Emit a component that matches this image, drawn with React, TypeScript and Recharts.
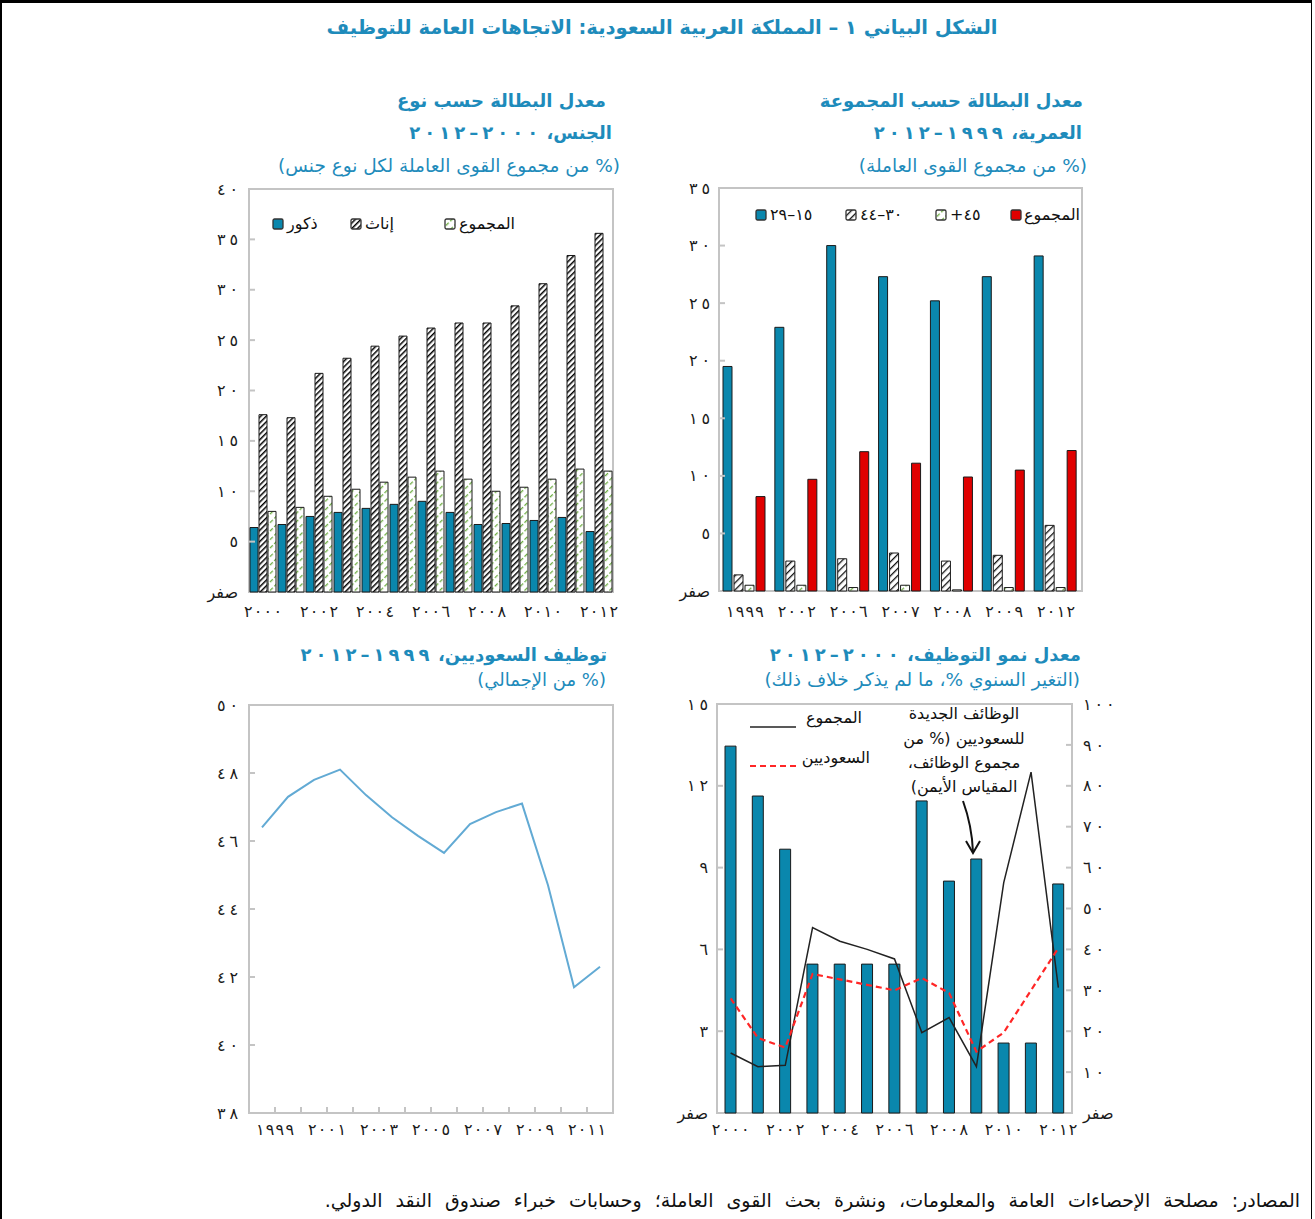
import React from 'react';
import { BarChart, Bar, LineChart, Line, ComposedChart, XAxis, YAxis, ReferenceArea } from 'recharts';

// ---------- data ----------
const ageYears = [1999, 2002, 2006, 2007, 2008, 2009, 2012];
const age15to29 = [19.5, 22.9, 30.0, 27.3, 25.2, 27.3, 29.1];
const age30to44 = [1.4, 2.6, 2.8, 3.3, 2.6, 3.1, 5.7];
const age45plus = [0.5, 0.5, 0.3, 0.5, 0.1, 0.3, 0.3];
const ageTotal = [8.2, 9.7, 12.1, 11.1, 9.9, 10.5, 12.2];
const ageTicks = [0, 5, 10, 15, 20, 25, 30, 35];

const genderYears = [2000, 2001, 2002, 2003, 2004, 2005, 2006, 2007, 2008, 2009, 2010, 2011, 2012];
const maleUnemp = [6.4, 6.7, 7.5, 7.9, 8.3, 8.7, 9.0, 7.9, 6.7, 6.8, 7.1, 7.4, 6.0];
const femaleUnemp = [17.6, 17.3, 21.7, 23.2, 24.4, 25.4, 26.2, 26.7, 26.7, 28.4, 30.6, 33.4, 35.6];
const totalUnemp = [8.0, 8.4, 9.5, 10.2, 10.9, 11.4, 12.0, 11.2, 10.0, 10.4, 11.2, 12.2, 12.0];
const genderTicks = [0, 5, 10, 15, 20, 25, 30, 35, 40];

const saudiYears = [1999, 2000, 2001, 2002, 2003, 2004, 2005, 2006, 2007, 2008, 2009, 2010, 2011, 2012];
const saudiShare = [46.4, 47.3, 47.8, 48.1, 47.35, 46.7, 46.15, 45.65, 46.5, 46.85, 47.1, 44.7, 41.7, 42.3];
const saudiTicks = [38, 40, 42, 44, 46, 48, 50];
const saudiLabelYears = [1999, 2001, 2003, 2005, 2007, 2009, 2011];

const growthYears = [2000, 2001, 2002, 2003, 2004, 2005, 2006, 2007, 2008, 2009, 2010, 2011, 2012];
const newJobsSaudiShare = [89.7, 77.5, 64.5, 36.4, 36.4, 36.4, 36.4, 76.3, 56.7, 62.1, 17.1, 17.1, 56.0];
const growthTotal = [2.2, 1.7, 1.75, 6.8, 6.3, 6.0, 5.65, 2.95, 3.5, 1.7, 8.45, 12.5, 4.6];
const growthSaudi = [4.2, 2.75, 2.4, 5.1, 4.9, 4.7, 4.5, 4.95, 4.4, 2.25, 2.95, 4.5, 6.05];
const growthLeftTicks = [0, 3, 6, 9, 12, 15];
const growthRightTicks = [0, 10, 20, 30, 40, 50, 60, 70, 80, 90, 100];

// ---------- style ----------
const AR_DIGITS = '٠١٢٣٤٥٦٧٨٩';
const ar = (v: number | string) => String(v).replace(/[0-9]/g, (d) => AR_DIGITS[Number(d)]);
const tickText = (v: number) => (v === 0 ? 'صفر' : ar(v));

const BLUE = '#0a87ad';
const TITLE_BLUE = '#1e8bbb';
const RED = '#e00000';
const GREEN = '#6fae45';
const FRAME = '#c4c4c4';
const LINE_BLUE = '#62aad4';
const FONT = '"DejaVu Sans", sans-serif';
const TICK_FS = 16;

// ---------- tick helpers ----------
function yTick(side: 'left' | 'right', min: number, max: number, gap: number) {
  return (props: any) => {
    const { x, y, payload } = props;
    const v = payload.value;
    const dir = side === 'left' ? 1 : -1;
    const mark = v > min && v < max;
    const label = tickText(v);
    const stretch = v === 0 ? {} : { textLength: label.length * 10.5, lengthAdjust: 'spacing' };
    return (
      <g>
        {mark && <line x1={x} x2={x + dir * 6} y1={y} y2={y} stroke={FRAME} strokeWidth={2} />}
        <text
          x={x - dir * gap}
          y={y}
          dy="0.35em"
          textAnchor={side === 'left' ? 'end' : 'start'}
          fontFamily={FONT}
          fontSize={TICK_FS}
          fill="#1a1a1a"
          {...stretch}
        >
          {label}
        </text>
      </g>
    );
  };
}

function xTick(offset: number) {
  return (props: any) => {
    const { x, y, payload } = props;
    const label = String(payload.value);
    return (
      <text
        x={x}
        y={y + offset}
        dy="0.35em"
        textAnchor="middle"
        fontFamily={FONT}
        fontSize={TICK_FS}
        fill="#1a1a1a"
        textLength={label.length * 9.5}
        lengthAdjust="spacing"
      >
        {label}
      </text>
    );
  };
}

const saudiXTick = (props: any) => {
  const { x, y, payload } = props;
  const v = payload.value;
  const yr = v - 0.5;
  const first = saudiYears[0] - 0.5;
  const last = saudiYears[saudiYears.length - 1] + 0.5;
  const label = ar(yr);
  return (
    <g>
      {v > first && v < last && <line x1={x} x2={x} y1={y} y2={y - 6} stroke={FRAME} strokeWidth={2} />}
      {saudiLabelYears.includes(yr) && (
        <text
          x={x}
          y={y + 16}
          dy="0.35em"
          textAnchor="middle"
          fontFamily={FONT}
          fontSize={TICK_FS}
          fill="#1a1a1a"
          textLength={label.length * 9.5}
          lengthAdjust="spacing"
        >
          {label}
        </text>
      )}
    </g>
  );
};

// ---------- patterns ----------
const Patterns = () => (
  <svg width={0} height={0} style={{ position: 'absolute' }}>
    <defs>
      <pattern id="hatchBlack" patternUnits="userSpaceOnUse" width="5" height="5" patternTransform="rotate(45)">
        <rect width="5" height="5" fill="#fff" />
        <line x1="0" y1="0" x2="0" y2="5" stroke="#111" strokeWidth="2.6" />
      </pattern>
      <pattern id="hatchFemale" patternUnits="userSpaceOnUse" width="4" height="4" patternTransform="rotate(45)">
        <rect width="4" height="4" fill="#fff" />
        <line x1="0" y1="0" x2="0" y2="4" stroke="#000" strokeWidth="3" />
      </pattern>
      <pattern id="hatchGreen" patternUnits="userSpaceOnUse" width="6" height="6" patternTransform="rotate(45)">
        <rect width="6" height="6" fill="#fff" />
        <line x1="0" y1="0" x2="0" y2="6" stroke={GREEN} strokeWidth="2.6" strokeDasharray="4 2" />
      </pattern>
    </defs>
  </svg>
);

// ---------- html helpers ----------
const Txt = ({ right, cy, size, bold, color, children, center, left, wordSpacing }: any) => {
  const style: any = {
    position: 'absolute',
    top: cy - size * 0.6,
    fontSize: size,
    lineHeight: `${size * 1.2}px`,
    fontWeight: bold ? 'bold' : 'normal',
    color: color || TITLE_BLUE,
    whiteSpace: 'nowrap',
    direction: 'rtl',
    fontFamily: FONT,
    wordSpacing: wordSpacing || 0,
  };
  if (center !== undefined) {
    style.left = center - 400;
    style.width = 800;
    style.textAlign = 'center';
  } else if (left !== undefined) {
    style.left = left;
  } else {
    style.right = 1315 - right;
  }
  return <div style={style}>{children}</div>;
};

// spread out Arabic-Indic digits (letter-spacing is ignored for Arabic script)
const Num = ({ text }: { text: string }) => (
  <>
    {Array.from(text).map((ch, i) => (
      <span key={i} style={{ marginLeft: 2, marginRight: 2 }}>
        {ch}
      </span>
    ))}
  </>
);

const Swatch = ({ left, cy, fill }: any) => (
  <svg width={12} height={12} style={{ position: 'absolute', left, top: cy - 6 }}>
    <rect x={1} y={1} width={10} height={10} rx={1.5} fill={fill} stroke="#333" strokeWidth={1.3} />
  </svg>
);

const LegendText = ({ left, cy, children }: any) => (
  <div
    style={{
      position: 'absolute',
      left,
      top: cy - 10,
      fontSize: 16,
      lineHeight: '20px',
      fontFamily: FONT,
      color: '#111',
      whiteSpace: 'nowrap',
      direction: 'rtl',
    }}
  >
    {children}
  </div>
);

// ---------- charts ----------
const ageData = ageYears.map((y, i) => ({
  year: ar(y),
  a: age15to29[i],
  b: age30to44[i],
  c: age45plus[i],
  t: ageTotal[i],
}));

const genderData = genderYears.map((y, i) => ({
  year: ar(y),
  m: maleUnemp[i],
  f: femaleUnemp[i],
  t: totalUnemp[i],
}));

const saudiData = saudiYears.map((y, i) => ({ year: y, v: saudiShare[i] }));
const saudiXTicks = [...saudiYears.map((y) => y - 0.5), saudiYears[saudiYears.length - 1] + 0.5];

const growthData = growthYears.map((y, i) => ({
  year: ar(y),
  jobs: newJobsSaudiShare[i],
  total: growthTotal[i],
  saudi: growthSaudi[i],
}));

const BAR_STROKE = '#1a1a1a';

const AgeChart = () => (
  <BarChart width={490} height={450} data={ageData} margin={{ top: 8, right: 0, bottom: 0, left: 0 }} barCategoryGap={4} barGap={2}>
    <XAxis dataKey="year" height={39} axisLine={false} tickLine={false} tickSize={0} tickMargin={0} interval={0} tick={xTick(20)} />
    <YAxis yAxisId="l" width={70} domain={[0, 35]} ticks={ageTicks} interval={0} axisLine={false} tickLine={false} tickSize={0} tickMargin={0} tick={yTick('left', 0, 35, 9)} />
    <YAxis yAxisId="r" orientation="right" width={57} domain={[0, 35]} ticks={ageTicks} interval={0} axisLine={false} tickLine={false} tickSize={0} tickMargin={0} tick={yTick('right', 0, 35, 11)} />
    <ReferenceArea yAxisId="l" y1={0} y2={35} fill="none" stroke={FRAME} strokeWidth={2} />
    <Bar yAxisId="l" dataKey="a" fill={BLUE} stroke={BAR_STROKE} strokeWidth={1} isAnimationActive={false} />
    <Bar yAxisId="l" dataKey="b" fill="url(#hatchBlack)" stroke={BAR_STROKE} strokeWidth={1} isAnimationActive={false} />
    <Bar yAxisId="l" dataKey="c" fill="url(#hatchGreen)" stroke={BAR_STROKE} strokeWidth={1} isAnimationActive={false} />
    <Bar yAxisId="l" dataKey="t" fill={RED} stroke={BAR_STROKE} strokeWidth={1} isAnimationActive={false} />
  </BarChart>
);

const GenderChart = () => (
  <BarChart width={490} height={450} data={genderData} margin={{ top: 9, right: 0, bottom: 0, left: 0 }} barCategoryGap={1} barGap={1}>
    <XAxis dataKey="year" height={38} axisLine={false} tickLine={false} tickSize={0} tickMargin={0} interval={1} tick={xTick(19)} />
    <YAxis yAxisId="l" width={70} domain={[0, 40]} ticks={genderTicks} interval={0} axisLine={false} tickLine={false} tickSize={0} tickMargin={0} tick={yTick('left', 0, 40, 11)} />
    <YAxis yAxisId="r" orientation="right" width={56} domain={[0, 40]} ticks={genderTicks} interval={0} axisLine={false} tickLine={false} tickSize={0} tickMargin={0} tick={yTick('right', 0, 40, 9)} />
    <ReferenceArea yAxisId="l" y1={0} y2={40} fill="none" stroke={FRAME} strokeWidth={2} />
    <Bar yAxisId="l" dataKey="m" fill={BLUE} stroke={BAR_STROKE} strokeWidth={1} isAnimationActive={false} />
    <Bar yAxisId="l" dataKey="f" fill="url(#hatchFemale)" stroke={BAR_STROKE} strokeWidth={1} isAnimationActive={false} />
    <Bar yAxisId="l" dataKey="t" fill="url(#hatchGreen)" stroke={BAR_STROKE} strokeWidth={1} isAnimationActive={false} />
  </BarChart>
);

const SaudiChart = () => (
  <LineChart width={490} height={455} data={saudiData} margin={{ top: 8, right: 0, bottom: 0, left: 0 }}>
    <XAxis
      dataKey="year"
      type="number"
      domain={[saudiXTicks[0], saudiXTicks[saudiXTicks.length - 1]]}
      ticks={saudiXTicks}
      interval={0}
      allowDecimals
      height={39}
      axisLine={false}
      tickLine={false}
      tickSize={0}
      tickMargin={0}
      tick={saudiXTick}
    />
    <YAxis yAxisId="l" width={70} domain={[38, 50]} ticks={saudiTicks} interval={0} axisLine={false} tickLine={false} tickSize={0} tickMargin={0} tick={yTick('left', 38, 50, 11)} />
    <YAxis yAxisId="r" orientation="right" width={56} domain={[38, 50]} ticks={saudiTicks} interval={0} axisLine={false} tickLine={false} tickSize={0} tickMargin={0} tick={yTick('right', 38, 50, 9)} />
    <ReferenceArea yAxisId="l" y1={38} y2={50} fill="none" stroke={FRAME} strokeWidth={2} />
    <Line yAxisId="l" type="linear" dataKey="v" stroke={LINE_BLUE} strokeWidth={2} dot={false} isAnimationActive={false} />
  </LineChart>
);

const GrowthChart = () => (
  <ComposedChart width={490} height={456} data={growthData} margin={{ top: 8, right: 0, bottom: 0, left: 0 }}>
    <XAxis dataKey="year" height={39} axisLine={false} tickLine={false} tickSize={0} tickMargin={0} interval={1} tick={xTick(16)} />
    <YAxis yAxisId="l" width={70} domain={[0, 15]} ticks={growthLeftTicks} interval={0} axisLine={false} tickLine={false} tickSize={0} tickMargin={0} tick={yTick('left', 0, 15, 9)} />
    <YAxis yAxisId="r" orientation="right" width={65} domain={[0, 100]} ticks={growthRightTicks} interval={0} axisLine={false} tickLine={false} tickSize={0} tickMargin={0} tick={yTick('right', 0, 100, 11)} />
    <ReferenceArea yAxisId="l" y1={0} y2={15} fill="none" stroke={FRAME} strokeWidth={2} />
    <Bar yAxisId="r" dataKey="jobs" barSize={11} fill={BLUE} stroke={BAR_STROKE} strokeWidth={1} isAnimationActive={false} />
    <Line yAxisId="l" type="linear" dataKey="total" stroke="#222" strokeWidth={1.5} dot={false} isAnimationActive={false} />
    <Line yAxisId="l" type="linear" dataKey="saudi" stroke="#ff2626" strokeWidth={2.2} strokeDasharray="6 4" dot={false} isAnimationActive={false} />
  </ComposedChart>
);

export default function App() {
  return (
    <div
      style={{
        position: 'absolute',
        left: 0,
        top: 0,
        width: 1315,
        height: 1219,
        background: '#fff',
        fontFamily: FONT,
        overflow: 'hidden',
      }}
    >
      <Patterns />
      {/* outer frame */}
      <div
        style={{
          position: 'absolute',
          left: 0,
          top: 0,
          width: 1312,
          height: 1219,
          borderTop: '3px solid #000',
          borderLeft: '2px solid #000',
          borderRight: '1px solid #000',
          boxSizing: 'border-box',
        }}
      />

      {/* main title */}
      <Txt center={662} cy={28} size={19.5} bold>
        الشكل البياني ١ – المملكة العربية السعودية: الاتجاهات العامة للتوظيف
      </Txt>

      {/* Panel: age groups */}
      <Txt right={1083} cy={101} size={18} bold>معدل البطالة حسب المجموعة</Txt>
      <Txt right={1082} cy={133} size={18} bold>العمرية، <Num text="١٩٩٩–٢٠١٢" /></Txt>
      <Txt right={1087} cy={166} size={18.5}>(% من مجموع القوى العاملة)</Txt>
      <div style={{ position: 'absolute', left: 649, top: 180 }}>
        <AgeChart />
      </div>
      <Swatch left={755} cy={215} fill={BLUE} />
      <LegendText left={770} cy={215}>١٥–٢٩</LegendText>
      <Swatch left={845} cy={215} fill="url(#hatchBlack)" />
      <LegendText left={860} cy={215}>٣٠–٤٤</LegendText>
      <Swatch left={935} cy={215} fill="url(#hatchGreen)" />
      <LegendText left={950} cy={215}>٤٥+</LegendText>
      <Swatch left={1010} cy={215} fill={RED} />
      <LegendText left={1024} cy={215}>المجموع</LegendText>

      {/* Panel: gender */}
      <Txt right={606} cy={101} size={18} bold>معدل البطالة حسب نوع</Txt>
      <Txt right={612} cy={133} size={18} bold>الجنس، <Num text="٢٠٠٠–٢٠١٢" /></Txt>
      <Txt right={620} cy={166} size={18.5}>(% من مجموع القوى العاملة لكل نوع جنس)</Txt>
      <div style={{ position: 'absolute', left: 179, top: 180 }}>
        <GenderChart />
      </div>
      <Swatch left={272} cy={224} fill={BLUE} />
      <LegendText left={287} cy={224}>ذكور</LegendText>
      <Swatch left={350} cy={224} fill="url(#hatchFemale)" />
      <LegendText left={365} cy={224}>إناث</LegendText>
      <Swatch left={444} cy={224} fill="url(#hatchGreen)" />
      <LegendText left={459} cy={224}>المجموع</LegendText>

      {/* Panel: Saudi employment share */}
      <Txt right={607} cy={655} size={18} bold>توظيف السعوديين، <Num text="١٩٩٩–٢٠١٢" /></Txt>
      <Txt right={606} cy={680} size={18}>(% من الإجمالي)</Txt>
      <div style={{ position: 'absolute', left: 179, top: 697 }}>
        <SaudiChart />
      </div>

      {/* Panel: employment growth */}
      <Txt right={1081} cy={655} size={18} bold>معدل نمو التوظيف، <Num text="٢٠٠٠–٢٠١٢" /></Txt>
      <Txt right={1080} cy={680} size={18.5}>(التغير السنوي %، ما لم يذكر خلاف ذلك)</Txt>
      <div style={{ position: 'absolute', left: 647, top: 696 }}>
        <GrowthChart />
      </div>
      <svg width={1315} height={1219} style={{ position: 'absolute', left: 0, top: 0, pointerEvents: 'none' }}>
        <line x1={750} x2={796} y1={727} y2={727} stroke="#222" strokeWidth={1.5} />
        <line x1={750} x2={796} y1={766} y2={766} stroke="#ff2626" strokeWidth={2.2} strokeDasharray="6 4" />
        <path d="M 963 801 Q 972 826 973 852" fill="none" stroke="#111" strokeWidth={2} />
        <path d="M 966 841 L 973 853 L 980 841" fill="none" stroke="#111" strokeWidth={2} />
      </svg>
      <Txt right={862} cy={718} size={16} color="#111">المجموع</Txt>
      <Txt right={870} cy={758} size={16} color="#111">السعوديين</Txt>
      <Txt center={964} cy={714} size={16} color="#111">الوظائف الجديدة</Txt>
      <Txt center={964} cy={739} size={16} color="#111">للسعوديين (% من</Txt>
      <Txt center={964} cy={763} size={16} color="#111">مجموع الوظائف،</Txt>
      <Txt center={964} cy={787} size={16} color="#111">المقياس الأيمن)</Txt>

      {/* footer */}
      <Txt right={1300} cy={1200} size={19} color="#111" wordSpacing={7}>
        المصادر: مصلحة الإحصاءات العامة والمعلومات، ونشرة بحث القوى العاملة؛ وحسابات خبراء صندوق النقد الدولي.
      </Txt>
    </div>
  );
}
